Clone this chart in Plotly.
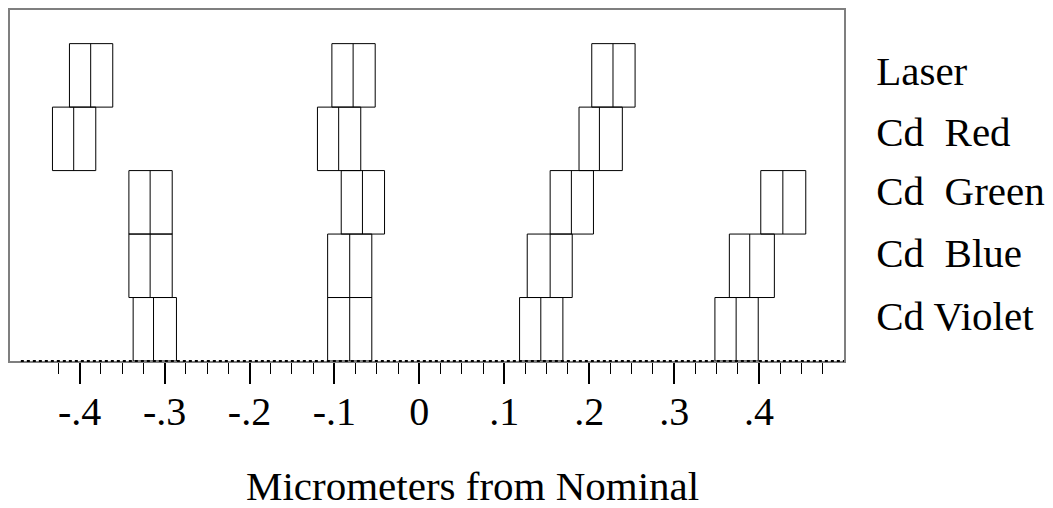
import plotly.graph_objects as go

# Rows (top to bottom)
categories = ["Laser", "Cd\u00a0 Red", "Cd\u00a0 Green", "Cd\u00a0 Blue", "Cd Violet"]
row_pos = [4, 3, 2, 1, 0]

# Four groups of boxes (low edge, median, high edge), one value per row
group1_low = [-0.412, -0.432, -0.342, -0.342, -0.337]
group1_mid = [-0.387, -0.407, -0.317, -0.317, -0.313]
group1_high = [-0.361, -0.381, -0.291, -0.291, -0.286]

group2_low = [-0.103, -0.120, -0.092, -0.108, -0.108]
group2_mid = [-0.078, -0.095, -0.067, -0.082, -0.082]
group2_high = [-0.052, -0.069, -0.041, -0.056, -0.056]

group3_low = [0.203, 0.188, 0.154, 0.127, 0.118]
group3_mid = [0.228, 0.212, 0.179, 0.154, 0.143]
group3_high = [0.254, 0.239, 0.205, 0.180, 0.169]

group4_rows = [2, 1, 0]  # Cd Green, Cd Blue, Cd Violet
group4_low = [0.402, 0.365, 0.348]
group4_mid = [0.428, 0.389, 0.373]
group4_high = [0.455, 0.418, 0.399]

tick_vals = [-0.4, -0.3, -0.2, -0.1, 0, 0.1, 0.2, 0.3, 0.4]
tick_text = ["-.4", "-.3", "-.2", "-.1", "0", ".1", ".2", ".3", ".4"]

# vertical placement of the row labels (layout only)
label_pos = [4.08, 3.12, 2.18, 1.21, 0.22]

FONT = "Liberation Serif, Times New Roman, serif"

fig = go.Figure()
groups = [
    (row_pos, group1_low, group1_mid, group1_high),
    (row_pos, group2_low, group2_mid, group2_high),
    (row_pos, group3_low, group3_mid, group3_high),
    (group4_rows, group4_low, group4_mid, group4_high),
]
for rows, lo, mid, hi in groups:
    fig.add_trace(go.Box(
        y=rows, q1=lo, median=mid, q3=hi, lowerfence=lo, upperfence=hi,
        orientation="h", width=1, whiskerwidth=0,
        line=dict(color="black", width=1), fillcolor="rgba(0,0,0,0)",
        boxpoints=False, showlegend=False,
    ))

minor_vals = [round(-0.425 + 0.025 * i, 3) for i in range(38)]
minor_vals = [v for v in minor_vals if abs(v * 10 - round(v * 10)) > 1e-6]

fig.update_layout(
    width=1045, height=500,
    margin=dict(l=2, r=209, t=0, b=147),
    paper_bgcolor="white", plot_bgcolor="white",
    boxmode="overlay",
    font=dict(family=FONT, color="black"),
    xaxis=dict(
        range=[-0.482, 0.5], showgrid=False, zeroline=False,
        showline=True, mirror=True, linecolor="#7f7f7f", linewidth=2,
        tickmode="array", tickvals=tick_vals, ticktext=tick_text,
        ticks="outside", ticklen=21, tickwidth=1.5, tickcolor="black",
        ticklabelstandoff=-7,
        tickfont=dict(size=40, family=FONT, color="black"),
        minor=dict(tickmode="array", tickvals=minor_vals, ticks="outside",
                   ticklen=11, tickwidth=1, tickcolor="black", showgrid=False),
    ),
    yaxis=dict(
        range=[-0.5, 5.03], showgrid=False, zeroline=False,
        showline=True, mirror=True, linecolor="#7f7f7f", linewidth=2,
        side="right", ticks="", ticklabelstandoff=22,
        tickmode="array", tickvals=label_pos, ticktext=categories,
        tickfont=dict(size=41, family=FONT, color="black"),
    ),
    shapes=[dict(type="line", xref="paper", yref="paper", x0=0.013, x1=1, y0=0, y1=0,
                 line=dict(color="black", width=2, dash="dot"))],
    annotations=[dict(text="Micrometers from Nominal", xref="paper", yref="paper",
                      x=0.555, y=-0.355, xanchor="center", yanchor="middle",
                      showarrow=False, font=dict(size=41, family=FONT, color="black"))],
)

fig.write_html("out.html")
